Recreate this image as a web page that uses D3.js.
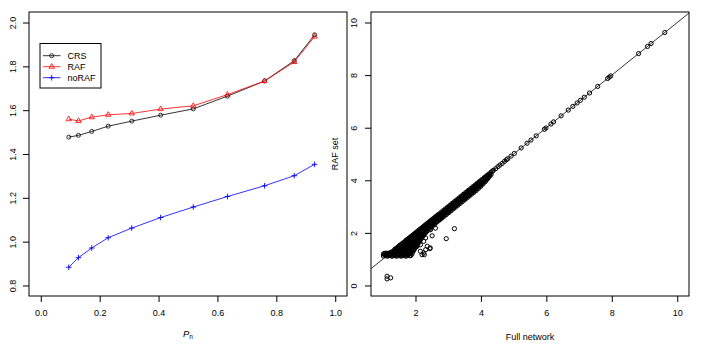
<!DOCTYPE html>
<html><head><meta charset="utf-8">
<script src="https://cdn.jsdelivr.net/npm/d3@7"></script>
<style>
body{margin:0;background:#fff}
text{font-family:"Liberation Sans",Arial,Helvetica,sans-serif;font-size:9px;fill:#000}
</style>
</head><body>
<svg id="c" width="708" height="351"></svg>
<script>
// ---------- Left panel data ----------
const pn    = [0.095,0.128,0.173,0.229,0.309,0.407,0.518,0.634,0.760,0.861,0.930];
const crs   = [1.477,1.485,1.503,1.527,1.550,1.577,1.606,1.664,1.733,1.826,1.944];
const raf   = [1.559,1.551,1.568,1.579,1.585,1.605,1.620,1.671,1.733,1.820,1.936];
const noRaf = [0.883,0.927,0.971,1.018,1.062,1.110,1.158,1.206,1.255,1.301,1.353];
const seriesNames = ["CRS","RAF","noRAF"];
const seriesColors = ["#000000","#ff0000","#0000ff"];
const leftXTicks = [0,0.2,0.4,0.6,0.8,1.0];
const leftYTicks = [0.8,1.0,1.2,1.4,1.6,1.8,2.0];

// ---------- Right panel data (Full network vs RAF set) ----------
// dense cloud, read column by column: [full network value, [RAF set values]]
const denseCols = [
 [1.02,[1.12,1.20]],[1.055,[1.16,1.22]],[1.09,[1.15,1.22]],[1.125,[1.12,1.19,1.23]],
 [1.16,[1.12,1.20]],[1.195,[1.16,1.23]],[1.23,[1.16,1.24]],[1.265,[1.12,1.20,1.27]],
 [1.30,[1.12,1.20,1.28]],[1.335,[1.16,1.24,1.32]],[1.37,[1.16,1.24,1.32,1.38]],
 [1.405,[1.12,1.20,1.28,1.36,1.40]],[1.44,[1.12,1.20,1.28,1.36,1.44]],
 [1.475,[1.16,1.24,1.32,1.40,1.47]],[1.51,[1.16,1.24,1.32,1.40,1.48,1.52]],
 [1.545,[1.12,1.20,1.28,1.36,1.44,1.54]],[1.58,[1.12,1.20,1.28,1.36,1.44,1.52,1.58]],
 [1.615,[1.16,1.24,1.32,1.40,1.48,1.56,1.61]],[1.65,[1.16,1.24,1.32,1.40,1.48,1.56,1.64]],
 [1.685,[1.12,1.20,1.28,1.36,1.44,1.52,1.60,1.68]],[1.72,[1.12,1.20,1.28,1.36,1.44,1.52,1.60,1.68,1.73]],
 [1.755,[1.16,1.24,1.32,1.40,1.48,1.56,1.64,1.72,1.75]],[1.79,[1.17,1.25,1.33,1.41,1.49,1.57,1.65,1.73,1.79]],
 [1.825,[1.13,1.21,1.29,1.37,1.45,1.53,1.61,1.69,1.77,1.82]],[1.86,[1.14,1.22,1.30,1.38,1.46,1.54,1.62,1.70,1.78,1.86]],
 [1.895,[1.20,1.28,1.36,1.44,1.52,1.60,1.68,1.76,1.84,1.89]],[1.93,[1.30,1.38,1.46,1.54,1.62,1.70,1.78,1.86,1.93]],
 [1.965,[1.38,1.46,1.54,1.62,1.70,1.78,1.86,1.96]],[2.00,[1.45,1.53,1.61,1.69,1.77,1.85,1.93,2.00]],
 [2.035,[1.50,1.58,1.66,1.74,1.82,1.90,1.98,2.03]],[2.07,[1.58,1.66,1.74,1.82,1.90,1.98,2.07]],
 [2.105,[1.64,1.72,1.80,1.88,1.96,2.04,2.10]],[2.14,[1.72,1.80,1.88,1.96,2.04,2.14]],
 [2.175,[1.78,1.86,1.94,2.02,2.10,2.17]],[2.21,[1.85,1.93,2.01,2.09,2.16,2.21]],
 [2.245,[1.90,1.98,2.06,2.14,2.20,2.24]],[2.28,[1.97,2.05,2.13,2.21,2.28]],
 [2.315,[2.01,2.09,2.17,2.25,2.31]],[2.35,[2.07,2.15,2.23,2.30,2.35]],
 [2.385,[2.10,2.18,2.26,2.33,2.38]],[2.42,[2.15,2.23,2.31,2.37,2.42]],
 [2.455,[2.18,2.26,2.34,2.41,2.45]],[2.49,[2.23,2.31,2.38,2.44,2.49]],
 [2.525,[2.27,2.35,2.43,2.52]],[2.56,[2.32,2.40,2.48,2.56]],
 [2.595,[2.35,2.43,2.51,2.59]],[2.63,[2.40,2.48,2.56,2.63]],
 [2.665,[2.43,2.51,2.59,2.66]],[2.70,[2.48,2.56,2.63,2.70]],
 [2.735,[2.49,2.56,2.63,2.70]],[2.77,[2.55,2.63,2.70,2.77]],
 [2.805,[2.56,2.63,2.70,2.77]],[2.84,[2.62,2.70,2.77,2.84]],
 [2.875,[2.63,2.70,2.77,2.84]],[2.91,[2.70,2.77,2.84,2.91]],
 [2.945,[2.70,2.77,2.84,2.91]],[2.98,[2.77,2.84,2.91,2.98]],
 [3.015,[2.77,2.84,2.91,2.98]],[3.05,[2.84,2.91,2.98,3.05]],
 [3.085,[2.84,2.91,2.98,3.05]],[3.12,[2.92,2.99,3.06,3.12]],
 [3.155,[2.91,2.98,3.05,3.12]],[3.19,[2.99,3.06,3.13,3.19]],
 [3.225,[2.98,3.05,3.12,3.19]],[3.26,[3.06,3.13,3.20,3.26]],
 [3.295,[3.05,3.12,3.19,3.26]],[3.33,[3.13,3.20,3.27,3.33]],
 [3.365,[3.12,3.19,3.26,3.33]],[3.40,[3.20,3.27,3.34,3.40]],
 [3.435,[3.19,3.26,3.33,3.40]],[3.47,[3.27,3.34,3.41,3.47]],
 [3.505,[3.26,3.33,3.40,3.47]],[3.54,[3.34,3.41,3.48,3.54]],
 [3.575,[3.33,3.40,3.47,3.54]],[3.61,[3.41,3.48,3.55,3.61]],
 [3.645,[3.40,3.47,3.54,3.61]],[3.68,[3.48,3.55,3.62,3.68]],
 [3.715,[3.47,3.54,3.61,3.68]],[3.75,[3.55,3.62,3.69,3.75]],
 [3.785,[3.54,3.61,3.68,3.75]],[3.82,[3.62,3.69,3.76,3.82]],
 [3.855,[3.61,3.68,3.75,3.82]],[3.89,[3.70,3.77,3.84,3.89]],
 [3.925,[3.69,3.76,3.83,3.89]],[3.96,[3.78,3.85,3.91,3.96]],
 [3.995,[3.77,3.84,3.91,3.96]],[4.03,[3.86,3.93,3.98,4.03]],
 [4.065,[3.86,3.93,3.99,4.03]],[4.10,[3.94,4.01,4.06,4.10]],
 [4.135,[3.95,4.02,4.08,4.11]],[4.17,[4.02,4.09,4.17]],
 [4.205,[4.06,4.13,4.19]],[4.24,[4.12,4.18,4.24]],
 [4.275,[4.17,4.24]],[4.31,[4.22,4.31]],[4.345,[4.34]]
];
// individual points: [full network, RAF set]
const sparsePts = [
 [4.38,4.38],[4.45,4.44],[4.52,4.52],[4.58,4.58],[4.65,4.64],[4.72,4.72],[4.78,4.78],[4.82,4.82],
 [4.92,4.92],[5.02,5.02],[3.95,3.83],
 [5.23,5.23],[5.41,5.41],[5.53,5.53],[5.69,5.69],[5.94,5.94],[5.99,5.99],[6.14,6.14],[6.22,6.22],
 [6.45,6.45],[6.67,6.67],[6.81,6.81],[6.94,6.94],[7.04,7.04],[7.16,7.16],[7.32,7.32],[7.57,7.57],
 [7.87,7.87],[7.92,7.92],[7.97,7.97],[8.82,8.82],[9.09,9.09],[9.20,9.20],[9.62,9.62],
 [1.95,1.36],[2.05,1.49],[2.15,1.30],[2.20,1.17],[2.25,1.24],[2.31,1.36],[2.15,1.55],[2.25,1.68],
 [2.31,1.81],[2.36,1.49],[2.44,1.40],[2.51,1.89],[2.61,2.18],[2.46,2.12],[2.71,2.50],[2.56,2.31],
 [2.23,1.93],[2.10,1.74],[2.00,1.55],[2.27,1.17],[2.45,1.43],[2.73,2.56],[3.19,2.16],[2.94,1.78],
 [1.13,0.35],[1.24,0.29],[1.13,0.25]
];
const rightXTicks = [2,4,6,8,10];
const rightYTicks = [0,2,4,6,8,10];
const ablineIntercept = 0, ablineSlope = 1;

const svg = d3.select("#c");

// ================= LEFT PANEL =================
const L = {l:29, r:347, t:12, b:296};
const xL = d3.scaleLinear().domain([-0.04,1.04]).range([L.l,L.r]);
const yL = d3.scaleLinear().domain([0.752,2.048]).range([L.b,L.t]);

const axL = svg.append("g").attr("transform",`translate(0,${L.b})`)
  .call(d3.axisBottom(xL).tickValues(leftXTicks).tickSize(6).tickFormat(d3.format(".1f")));
axL.select(".domain").remove();
axL.selectAll("line").attr("stroke","#000");
axL.selectAll("text").attr("y",20).attr("dy",null).attr("fill","#000").style("font-size","9px").style("font-family",null);

const ayL = svg.append("g").attr("transform",`translate(${L.l},0)`)
  .call(d3.axisLeft(yL).tickValues(leftYTicks).tickSize(6).tickFormat(d3.format(".1f")));
ayL.select(".domain").remove();
ayL.selectAll("line").attr("stroke","#000");
ayL.selectAll("text").attr("x",null).attr("dy",null).attr("text-anchor","middle").attr("fill","#000")
  .attr("transform","translate(-13,0) rotate(-90)").style("font-size","9px").style("font-family",null);

const series = [crs, raf, noRaf];
const line = (vals) => d3.line().x((d,i)=>xL(pn[i])).y(d=>yL(d))(vals);

function drawSym(g, type, color, cx, cy){
  if(type===0){
    g.append("circle").attr("cx",cx).attr("cy",cy).attr("r",2).attr("fill","none").attr("stroke",color).attr("stroke-width",0.8);
  } else if(type===1){
    const r=3.1, xc=r*Math.sqrt(3)/2, yc=r/2;
    g.append("path").attr("d",`M${cx},${cy-r}L${cx+xc},${cy+yc}L${cx-xc},${cy+yc}Z`)
      .attr("fill","none").attr("stroke",color).attr("stroke-width",0.8);
  } else {
    const a=2.8;
    g.append("path").attr("d",`M${cx-a},${cy}H${cx+a}M${cx},${cy-a}V${cy+a}`)
      .attr("stroke",color).attr("stroke-width",0.9);
  }
}

series.forEach((vals,k)=>{
  const g = svg.append("g");
  g.append("path").attr("d",line(vals)).attr("fill","none").attr("stroke",seriesColors[k]).attr("stroke-width",0.8);
  vals.forEach((v,i)=>drawSym(g,k,seriesColors[k],xL(pn[i]),yL(v)));
});

svg.append("rect").attr("x",L.l).attr("y",L.t).attr("width",L.r-L.l).attr("height",L.b-L.t)
  .attr("fill","none").attr("stroke","#000").attr("stroke-width",1);

// legend
const lg = svg.append("g");
lg.append("rect").attr("x",40).attr("y",43.5).attr("width",61).attr("height",44.5)
  .attr("fill","none").attr("stroke","#000").attr("stroke-width",1);
seriesNames.forEach((nm,k)=>{
  const yy = 55.7 + 11*k;
  lg.append("line").attr("x1",43).attr("x2",60.5).attr("y1",yy).attr("y2",yy)
    .attr("stroke",seriesColors[k]).attr("stroke-width",0.8);
  drawSym(lg,k,seriesColors[k],51.7,yy);
  lg.append("text").attr("x",67.5).attr("y",yy+3.3).attr("fill","#000").text(nm);
});

// x label P_n
const xlab = svg.append("text").attr("x",188).attr("y",337).attr("text-anchor","middle").attr("fill","#000");
xlab.append("tspan").attr("fill","#000").style("font-style","italic").style("font-size","9.5px").text("P");
xlab.append("tspan").attr("fill","#000").attr("dy",1.5).style("font-size","6.5px").text("n");

// ================= RIGHT PANEL =================
const R = {l:371, r:689, t:12, b:296};
const xR = d3.scaleLinear().domain([0.64,10.36]).range([R.l,R.r]);
const yR = d3.scaleLinear().domain([-0.4,10.4]).range([R.b,R.t]);

svg.append("defs").append("clipPath").attr("id","clipR").append("rect")
  .attr("x",R.l).attr("y",R.t).attr("width",R.r-R.l).attr("height",R.b-R.t);

const axR = svg.append("g").attr("transform",`translate(0,${R.b})`)
  .call(d3.axisBottom(xR).tickValues(rightXTicks).tickSize(6).tickFormat(d3.format("d")));
axR.select(".domain").remove();
axR.selectAll("line").attr("stroke","#000");
axR.selectAll("text").attr("y",20).attr("dy",null).attr("fill","#000").style("font-size","9px").style("font-family",null);

const ayR = svg.append("g").attr("transform",`translate(${R.l},0)`)
  .call(d3.axisLeft(yR).tickValues(rightYTicks).tickSize(6).tickFormat(d3.format("d")));
ayR.select(".domain").remove();
ayR.selectAll("line").attr("stroke","#000");
ayR.selectAll("text").attr("x",null).attr("dy",null).attr("text-anchor","middle").attr("fill","#000")
  .attr("transform","translate(-14,0) rotate(-90)").style("font-size","9px").style("font-family",null);

const allPts = [];
denseCols.forEach(([fx,ys])=>ys.forEach(y=>allPts.push([fx,y])));
sparsePts.forEach(p=>allPts.push(p));

const plotR = svg.append("g").attr("clip-path","url(#clipR)");
const xd = xR.domain();
plotR.append("line")
  .attr("x1",xR(xd[0])).attr("y1",yR(ablineIntercept+ablineSlope*xd[0]))
  .attr("x2",xR(xd[1])).attr("y2",yR(ablineIntercept+ablineSlope*xd[1]))
  .attr("stroke","#000").attr("stroke-width",0.8);
plotR.selectAll("circle.pt").data(allPts).join("circle").attr("class","pt")
  .attr("cx",d=>xR(d[0])).attr("cy",d=>yR(d[1])).attr("r",2.1)
  .attr("fill","none").attr("stroke","#000").attr("stroke-width",1);

svg.append("rect").attr("x",R.l).attr("y",R.t).attr("width",R.r-R.l).attr("height",R.b-R.t)
  .attr("fill","none").attr("stroke","#000").attr("stroke-width",1);

svg.append("text").attr("x",(R.l+R.r)/2).attr("y",339.5).attr("text-anchor","middle").attr("fill","#000").text("Full network");
svg.append("text").attr("transform",`translate(337.5,${(R.t+R.b)/2}) rotate(-90)`).attr("text-anchor","middle").attr("fill","#000").text("RAF set");
</script>
</body></html>
